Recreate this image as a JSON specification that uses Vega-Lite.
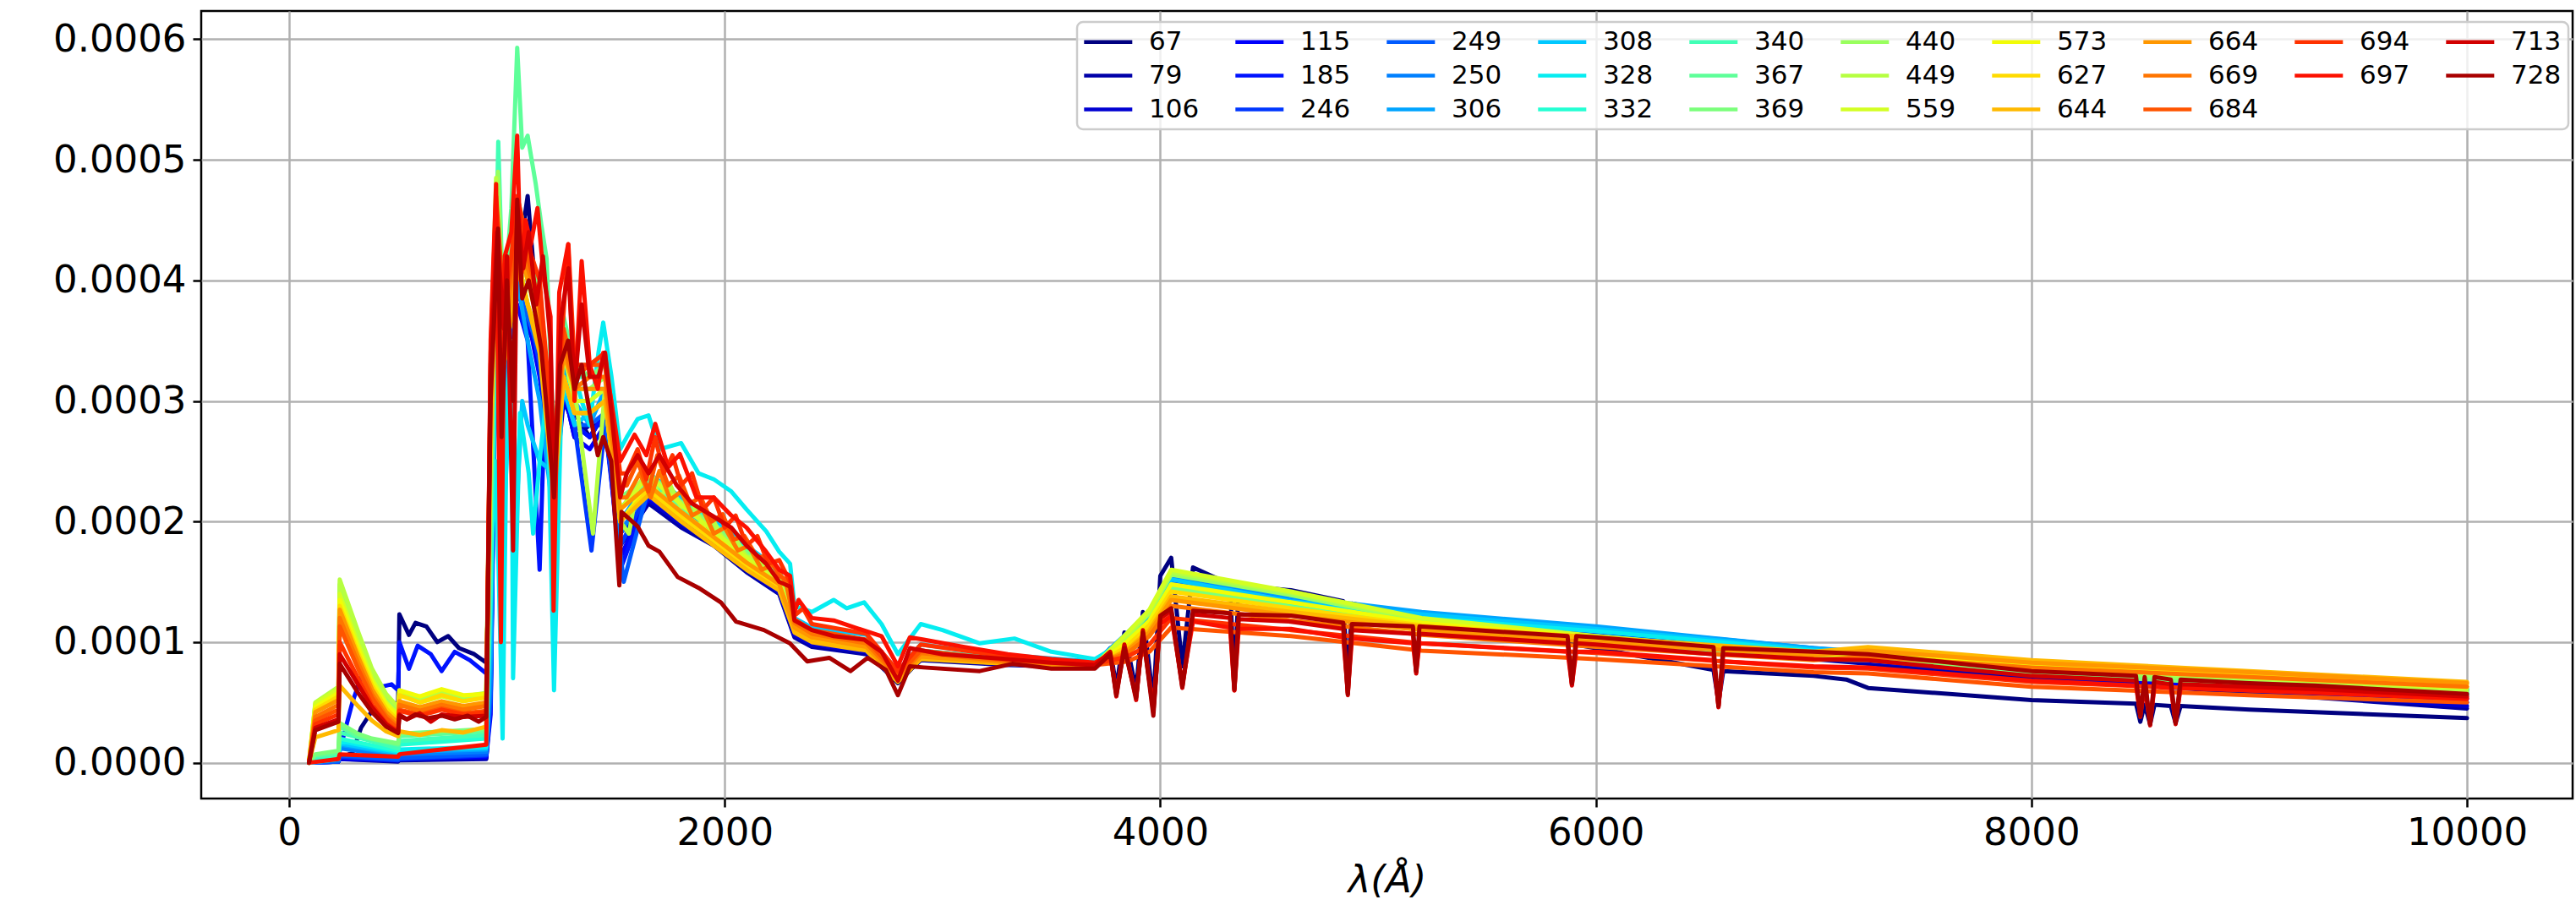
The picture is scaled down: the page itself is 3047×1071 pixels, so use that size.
{
"$schema":"https://vega.github.io/schema/vega-lite/v6.json",
"width":2805,"height":932,
"autosize":{"type":"none"},
"padding":{"left":238,"top":13,"right":4,"bottom":126},
"background":"white",
"config":{
"view":{"stroke":"black","strokeWidth":2.5},
"font":"DejaVu Sans",
"axis":{"labelFont":"DejaVu Sans","labelFontSize":45,"labelColor":"#000","tickColor":"#000","tickWidth":2.5,"tickSize":10,"labelPadding":8,"domain":false,"grid":true,"gridColor":"#b0b0b0","gridWidth":2.5,"titleFont":"DejaVu Sans","titleFontSize":45,"titleFontWeight":"normal","titleColor":"#000"}
},
"data":{"values":[
{"s":67,"x":91,"y":0},{"s":67,"x":226,"y":0.000002},{"s":67,"x":232,"y":0.000004},{"s":67,"x":290,"y":0.000008},{"s":67,"x":330,"y":0.000029},{"s":67,"x":380,"y":0.000043},{"s":67,"x":440,"y":0.000053},{"s":67,"x":500,"y":0.000048},{"s":67,"x":506,"y":0.000123},{"s":67,"x":550,"y":0.000106},{"s":67,"x":580,"y":0.000116},{"s":67,"x":630,"y":0.000113},{"s":67,"x":680,"y":0.0001},{"s":67,"x":730,"y":0.000105},{"s":67,"x":780,"y":0.000095},{"s":67,"x":850,"y":0.00009},{"s":67,"x":905,"y":0.000083},
{"s":67,"x":925,"y":0.0002},{"s":67,"x":950,"y":0.0004},{"s":67,"x":985,"y":0.00033},{"s":67,"x":1020,"y":0.00036},{"s":67,"x":1047,"y":0.00041},{"s":67,"x":1095,"y":0.00047},{"s":67,"x":1150,"y":0.00035},{"s":67,"x":1216,"y":0.00022},{"s":67,"x":1260,"y":0.00032},{"s":67,"x":1310,"y":0.00029},{"s":67,"x":1380,"y":0.00027},{"s":67,"x":1450,"y":0.00029},{"s":67,"x":1520,"y":0.00017},
{"s":67,"x":1650,"y":0.00022},{"s":67,"x":1800,"y":0.0002},{"s":67,"x":1950,"y":0.000185},{"s":67,"x":2100,"y":0.00016},{"s":67,"x":2250,"y":0.000142},{"s":67,"x":2320,"y":0.000105},{"s":67,"x":2400,"y":0.000098},{"s":67,"x":2650,"y":0.000092},{"s":67,"x":2795,"y":0.000066},{"s":67,"x":2900,"y":0.000086},{"s":67,"x":3300,"y":0.000082},{"s":67,"x":3700,"y":0.00008},
{"s":67,"x":3770,"y":0.000095},{"s":67,"x":3798,"y":0.000062},{"s":67,"x":3835,"y":0.000108},{"s":67,"x":3889,"y":0.00006},{"s":67,"x":3920,"y":0.000125},{"s":67,"x":3968,"y":0.00005},{"s":67,"x":4000,"y":0.000155},{"s":67,"x":4050,"y":0.00017},{"s":67,"x":4101,"y":0.00008},{"s":67,"x":4150,"y":0.000162},{"s":67,"x":4320,"y":0.000148},{"s":67,"x":4340,"y":0.000065},{"s":67,"x":4360,"y":0.000147},{"s":67,"x":4600,"y":0.000143},{"s":67,"x":4840,"y":0.000134},{"s":67,"x":4861,"y":0.000065},{"s":67,"x":4880,"y":0.000132},{"s":67,"x":5200,"y":0.00012},{"s":67,"x":6000,"y":0.000095},{"s":67,"x":6540,"y":0.000077},{"s":67,"x":6563,"y":0.00005},{"s":67,"x":6585,"y":0.000076},{"s":67,"x":7000,"y":0.000072},{"s":67,"x":7150,"y":0.000069},{"s":67,"x":7250,"y":0.000062},{"s":67,"x":8000,"y":0.000052},{"s":67,"x":8480,"y":0.000049},{"s":67,"x":8500,"y":0.000034},{"s":67,"x":8520,"y":0.000048},{"s":67,"x":8545,"y":0.000032},{"s":67,"x":8565,"y":0.000048},{"s":67,"x":8640,"y":0.000047},{"s":67,"x":8662,"y":0.000033},{"s":67,"x":8685,"y":0.000047},{"s":67,"x":9000,"y":0.000044},{"s":67,"x":10000,"y":0.000037},

{"s":79,"x":91,"y":0},{"s":79,"x":226,"y":0.000001},{"s":79,"x":232,"y":0.000003},{"s":79,"x":500,"y":0.000001},{"s":79,"x":506,"y":0.000002},{"s":79,"x":905,"y":0.000003},
{"s":79,"x":925,"y":0.00006},{"s":79,"x":950,"y":0.00038},{"s":79,"x":985,"y":0.00031},{"s":79,"x":1020,"y":0.00035},{"s":79,"x":1047,"y":0.0004},{"s":79,"x":1095,"y":0.00037},{"s":79,"x":1150,"y":0.00033},{"s":79,"x":1216,"y":0.00021},{"s":79,"x":1260,"y":0.00031},{"s":79,"x":1310,"y":0.00027},{"s":79,"x":1380,"y":0.00028},{"s":79,"x":1450,"y":0.00028},{"s":79,"x":1520,"y":0.00018},
{"s":79,"x":1650,"y":0.000215},{"s":79,"x":1800,"y":0.000195},{"s":79,"x":1950,"y":0.00018},{"s":79,"x":2100,"y":0.000158},{"s":79,"x":2250,"y":0.00014},{"s":79,"x":2320,"y":0.000104},{"s":79,"x":2400,"y":0.000096},{"s":79,"x":2650,"y":0.00009},{"s":79,"x":2795,"y":0.000068},{"s":79,"x":2900,"y":0.000085},{"s":79,"x":3300,"y":0.000081},{"s":79,"x":3700,"y":0.000079},
{"s":79,"x":3850,"y":0.000106},{"s":79,"x":3950,"y":0.000124},{"s":79,"x":4050,"y":0.000156},{"s":79,"x":4600,"y":0.000136},{"s":79,"x":5200,"y":0.000118},{"s":79,"x":6000,"y":0.000104},{"s":79,"x":7000,"y":0.000086},{"s":79,"x":7250,"y":0.000082},{"s":79,"x":8000,"y":0.00007},{"s":79,"x":9000,"y":0.000058},{"s":79,"x":10000,"y":0.000045},

{"s":106,"x":91,"y":0},{"s":106,"x":226,"y":0.000001},{"s":106,"x":232,"y":0.000003},{"s":106,"x":500,"y":0.000002},{"s":106,"x":506,"y":0.000003},{"s":106,"x":905,"y":0.000004},
{"s":106,"x":925,"y":0.00005},{"s":106,"x":950,"y":0.00039},{"s":106,"x":985,"y":0.00032},{"s":106,"x":1020,"y":0.00034},{"s":106,"x":1047,"y":0.00041},{"s":106,"x":1095,"y":0.00036},{"s":106,"x":1150,"y":0.00034},{"s":106,"x":1216,"y":0.00022},{"s":106,"x":1260,"y":0.0003},{"s":106,"x":1310,"y":0.00028},{"s":106,"x":1380,"y":0.00027},{"s":106,"x":1450,"y":0.00029},{"s":106,"x":1520,"y":0.00019},
{"s":106,"x":1650,"y":0.000218},{"s":106,"x":1800,"y":0.000198},{"s":106,"x":1950,"y":0.000182},{"s":106,"x":2100,"y":0.00016},{"s":106,"x":2250,"y":0.000141},{"s":106,"x":2320,"y":0.000106},{"s":106,"x":2400,"y":0.000098},{"s":106,"x":2650,"y":0.000092},{"s":106,"x":2795,"y":0.000069},{"s":106,"x":2900,"y":0.000086},{"s":106,"x":3300,"y":0.000082},{"s":106,"x":3700,"y":0.00008},
{"s":106,"x":3850,"y":0.000104},{"s":106,"x":3950,"y":0.000122},{"s":106,"x":4050,"y":0.000154},{"s":106,"x":4600,"y":0.000135},{"s":106,"x":5200,"y":0.000119},{"s":106,"x":6000,"y":0.000106},{"s":106,"x":7000,"y":0.000088},{"s":106,"x":7250,"y":0.000084},{"s":106,"x":8000,"y":0.000072},{"s":106,"x":9000,"y":0.00006},{"s":106,"x":10000,"y":0.000047},

{"s":115,"x":91,"y":0},{"s":115,"x":226,"y":0.000001},{"s":115,"x":232,"y":0.000004},{"s":115,"x":500,"y":0.000002},{"s":115,"x":506,"y":0.000003},{"s":115,"x":905,"y":0.000005},
{"s":115,"x":925,"y":0.00004},{"s":115,"x":950,"y":0.00037},{"s":115,"x":985,"y":0.00033},{"s":115,"x":1020,"y":0.00035},{"s":115,"x":1047,"y":0.00039},{"s":115,"x":1095,"y":0.00037},{"s":115,"x":1150,"y":0.00032},{"s":115,"x":1216,"y":0.00023},{"s":115,"x":1260,"y":0.00031},{"s":115,"x":1310,"y":0.00027},{"s":115,"x":1380,"y":0.00026},{"s":115,"x":1450,"y":0.00028},{"s":115,"x":1520,"y":0.00017},
{"s":115,"x":1650,"y":0.00022},{"s":115,"x":1800,"y":0.000202},{"s":115,"x":1950,"y":0.000184},{"s":115,"x":2100,"y":0.000162},{"s":115,"x":2250,"y":0.000144},{"s":115,"x":2320,"y":0.000108},{"s":115,"x":2400,"y":0.0001},{"s":115,"x":2650,"y":0.000093},{"s":115,"x":2795,"y":0.000069},{"s":115,"x":2900,"y":0.000087},{"s":115,"x":3300,"y":0.000083},{"s":115,"x":3700,"y":0.00008},
{"s":115,"x":3850,"y":0.000103},{"s":115,"x":3950,"y":0.000121},{"s":115,"x":4050,"y":0.000152},{"s":115,"x":4600,"y":0.000134},{"s":115,"x":5200,"y":0.000119},{"s":115,"x":6000,"y":0.000107},{"s":115,"x":7000,"y":0.00009},{"s":115,"x":7250,"y":0.000086},{"s":115,"x":8000,"y":0.000074},{"s":115,"x":9000,"y":0.000062},{"s":115,"x":10000,"y":0.00005},

{"s":185,"x":91,"y":0},{"s":185,"x":226,"y":0.000002},{"s":185,"x":232,"y":0.00001},{"s":185,"x":290,"y":0.00005},{"s":185,"x":340,"y":0.000076},{"s":185,"x":400,"y":0.000062},{"s":185,"x":470,"y":0.000065},{"s":185,"x":500,"y":0.00006},{"s":185,"x":506,"y":0.0001},{"s":185,"x":550,"y":0.000078},{"s":185,"x":590,"y":0.000097},{"s":185,"x":650,"y":0.00009},{"s":185,"x":700,"y":0.000076},{"s":185,"x":760,"y":0.000092},{"s":185,"x":830,"y":0.000085},{"s":185,"x":905,"y":0.000074},
{"s":185,"x":925,"y":0.00018},{"s":185,"x":950,"y":0.00036},{"s":185,"x":985,"y":0.00031},{"s":185,"x":1020,"y":0.00036},{"s":185,"x":1047,"y":0.00038},{"s":185,"x":1095,"y":0.00035},{"s":185,"x":1150,"y":0.00016},{"s":185,"x":1180,"y":0.00033},{"s":185,"x":1216,"y":0.00022},{"s":185,"x":1260,"y":0.00032},{"s":185,"x":1310,"y":0.00028},{"s":185,"x":1380,"y":0.00027},{"s":185,"x":1450,"y":0.00029},{"s":185,"x":1520,"y":0.00016},
{"s":185,"x":1650,"y":0.000223},{"s":185,"x":1800,"y":0.000204},{"s":185,"x":1950,"y":0.000186},{"s":185,"x":2100,"y":0.000164},{"s":185,"x":2250,"y":0.000146},{"s":185,"x":2320,"y":0.00011},{"s":185,"x":2400,"y":0.000101},{"s":185,"x":2650,"y":0.000094},{"s":185,"x":2795,"y":0.00007},{"s":185,"x":2900,"y":0.000088},{"s":185,"x":3300,"y":0.000083},{"s":185,"x":3700,"y":0.000081},
{"s":185,"x":3850,"y":0.000103},{"s":185,"x":3950,"y":0.00012},{"s":185,"x":4050,"y":0.00015},{"s":185,"x":4600,"y":0.000133},{"s":185,"x":5200,"y":0.00012},{"s":185,"x":6000,"y":0.000108},{"s":185,"x":7000,"y":0.000091},{"s":185,"x":7250,"y":0.000087},{"s":185,"x":8000,"y":0.000075},{"s":185,"x":9000,"y":0.000064},{"s":185,"x":10000,"y":0.000053},

{"s":246,"x":91,"y":0},{"s":246,"x":226,"y":0.000001},{"s":246,"x":232,"y":0.000005},{"s":246,"x":500,"y":0.000002},{"s":246,"x":506,"y":0.000003},{"s":246,"x":905,"y":0.000006},
{"s":246,"x":925,"y":0.00005},{"s":246,"x":950,"y":0.00039},{"s":246,"x":985,"y":0.00032},{"s":246,"x":1020,"y":0.00037},{"s":246,"x":1047,"y":0.0004},{"s":246,"x":1095,"y":0.00038},{"s":246,"x":1150,"y":0.00033},{"s":246,"x":1216,"y":0.00023},{"s":246,"x":1260,"y":0.00031},{"s":246,"x":1310,"y":0.00028},{"s":246,"x":1388,"y":0.000176},{"s":246,"x":1450,"y":0.00028},{"s":246,"x":1520,"y":0.00018},
{"s":246,"x":1650,"y":0.000225},{"s":246,"x":1800,"y":0.000206},{"s":246,"x":1950,"y":0.000188},{"s":246,"x":2100,"y":0.000166},{"s":246,"x":2250,"y":0.000148},{"s":246,"x":2320,"y":0.000111},{"s":246,"x":2400,"y":0.000103},{"s":246,"x":2650,"y":0.000095},{"s":246,"x":2795,"y":0.000071},{"s":246,"x":2900,"y":0.000089},{"s":246,"x":3300,"y":0.000084},{"s":246,"x":3700,"y":0.000081},
{"s":246,"x":3850,"y":0.000105},{"s":246,"x":3950,"y":0.000123},{"s":246,"x":4050,"y":0.000153},{"s":246,"x":4600,"y":0.000135},{"s":246,"x":5200,"y":0.000122},{"s":246,"x":6000,"y":0.00011},{"s":246,"x":7000,"y":0.000093},{"s":246,"x":7250,"y":0.000089},{"s":246,"x":8000,"y":0.000077},{"s":246,"x":9000,"y":0.000066},{"s":246,"x":10000,"y":0.000056},

{"s":249,"x":91,"y":0},{"s":249,"x":226,"y":0.000001},{"s":249,"x":232,"y":0.000006},{"s":249,"x":500,"y":0.000003},{"s":249,"x":506,"y":0.000004},{"s":249,"x":905,"y":0.000007},
{"s":249,"x":925,"y":0.00006},{"s":249,"x":950,"y":0.0004},{"s":249,"x":985,"y":0.00033},{"s":249,"x":1020,"y":0.00036},{"s":249,"x":1047,"y":0.00041},{"s":249,"x":1095,"y":0.00037},{"s":249,"x":1150,"y":0.00034},{"s":249,"x":1216,"y":0.00022},{"s":249,"x":1260,"y":0.00033},{"s":249,"x":1310,"y":0.00028},{"s":249,"x":1380,"y":0.00028},{"s":249,"x":1450,"y":0.00029},{"s":249,"x":1536,"y":0.00015},
{"s":249,"x":1650,"y":0.000228},{"s":249,"x":1800,"y":0.000208},{"s":249,"x":1950,"y":0.00019},{"s":249,"x":2100,"y":0.000168},{"s":249,"x":2250,"y":0.00015},{"s":249,"x":2320,"y":0.000112},{"s":249,"x":2400,"y":0.000104},{"s":249,"x":2650,"y":0.000096},{"s":249,"x":2795,"y":0.000072},{"s":249,"x":2900,"y":0.00009},{"s":249,"x":3300,"y":0.000085},{"s":249,"x":3700,"y":0.000082},
{"s":249,"x":3850,"y":0.000106},{"s":249,"x":3950,"y":0.000124},{"s":249,"x":4050,"y":0.000154},{"s":249,"x":4600,"y":0.000136},{"s":249,"x":5200,"y":0.000123},{"s":249,"x":6000,"y":0.000111},{"s":249,"x":7000,"y":0.000094},{"s":249,"x":7250,"y":0.00009},{"s":249,"x":8000,"y":0.000078},{"s":249,"x":9000,"y":0.000068},{"s":249,"x":10000,"y":0.000058},

{"s":250,"x":91,"y":0},{"s":250,"x":226,"y":0.000002},{"s":250,"x":232,"y":0.000012},{"s":250,"x":500,"y":0.000005},{"s":250,"x":506,"y":0.000007},{"s":250,"x":905,"y":0.000009},
{"s":250,"x":925,"y":0.00007},{"s":250,"x":950,"y":0.00041},{"s":250,"x":985,"y":0.00034},{"s":250,"x":1020,"y":0.00037},{"s":250,"x":1047,"y":0.00042},{"s":250,"x":1095,"y":0.00038},{"s":250,"x":1150,"y":0.00034},{"s":250,"x":1216,"y":0.00023},{"s":250,"x":1260,"y":0.00032},{"s":250,"x":1310,"y":0.00029},{"s":250,"x":1380,"y":0.00029},{"s":250,"x":1450,"y":0.0003},{"s":250,"x":1520,"y":0.00019},
{"s":250,"x":1650,"y":0.00023},{"s":250,"x":1800,"y":0.00021},{"s":250,"x":1950,"y":0.000192},{"s":250,"x":2100,"y":0.00017},{"s":250,"x":2250,"y":0.000152},{"s":250,"x":2320,"y":0.000114},{"s":250,"x":2400,"y":0.000106},{"s":250,"x":2650,"y":0.000098},{"s":250,"x":2795,"y":0.000073},{"s":250,"x":2900,"y":0.000091},{"s":250,"x":3300,"y":0.000085},{"s":250,"x":3700,"y":0.000082},
{"s":250,"x":3850,"y":0.000107},{"s":250,"x":3950,"y":0.000125},{"s":250,"x":4050,"y":0.000155},{"s":250,"x":4600,"y":0.000137},{"s":250,"x":5200,"y":0.000124},{"s":250,"x":6000,"y":0.000112},{"s":250,"x":7000,"y":0.000095},{"s":250,"x":7250,"y":0.000091},{"s":250,"x":8000,"y":0.000079},{"s":250,"x":9000,"y":0.000069},{"s":250,"x":10000,"y":0.00006},

{"s":306,"x":91,"y":0},{"s":306,"x":226,"y":0.000003},{"s":306,"x":232,"y":0.000015},{"s":306,"x":500,"y":0.000007},{"s":306,"x":506,"y":0.000009},{"s":306,"x":905,"y":0.000011},
{"s":306,"x":925,"y":0.00009},{"s":306,"x":950,"y":0.0004},{"s":306,"x":985,"y":0.0003},{"s":306,"x":1020,"y":0.00038},{"s":306,"x":1047,"y":0.0004},{"s":306,"x":1095,"y":0.00035},{"s":306,"x":1150,"y":0.0003},{"s":306,"x":1216,"y":0.0002},{"s":306,"x":1260,"y":0.00033},{"s":306,"x":1310,"y":0.0003},{"s":306,"x":1380,"y":0.00028},{"s":306,"x":1450,"y":0.00031},{"s":306,"x":1520,"y":0.0002},
{"s":306,"x":1650,"y":0.000235},{"s":306,"x":1800,"y":0.000214},{"s":306,"x":1950,"y":0.000196},{"s":306,"x":2100,"y":0.000174},{"s":306,"x":2250,"y":0.000156},{"s":306,"x":2320,"y":0.000116},{"s":306,"x":2400,"y":0.000108},{"s":306,"x":2650,"y":0.0001},{"s":306,"x":2795,"y":0.000074},{"s":306,"x":2900,"y":0.000093},{"s":306,"x":3300,"y":0.000086},{"s":306,"x":3700,"y":0.000083},
{"s":306,"x":3850,"y":0.000108},{"s":306,"x":3950,"y":0.000126},{"s":306,"x":4050,"y":0.000156},{"s":306,"x":4600,"y":0.000138},{"s":306,"x":5200,"y":0.000125},{"s":306,"x":6000,"y":0.000113},{"s":306,"x":7000,"y":0.000095},{"s":306,"x":7250,"y":0.000092},{"s":306,"x":8000,"y":0.00008},{"s":306,"x":9000,"y":0.00007},{"s":306,"x":10000,"y":0.000061},

{"s":308,"x":91,"y":0},{"s":308,"x":226,"y":0.000003},{"s":308,"x":232,"y":0.000016},{"s":308,"x":500,"y":0.000008},{"s":308,"x":506,"y":0.00001},{"s":308,"x":905,"y":0.000012},
{"s":308,"x":925,"y":0.00012},{"s":308,"x":950,"y":0.00035},{"s":308,"x":985,"y":0.0002},{"s":308,"x":1020,"y":0.00033},{"s":308,"x":1047,"y":0.00022},{"s":308,"x":1070,"y":0.0003},{"s":308,"x":1095,"y":0.00028},{"s":308,"x":1150,"y":0.00025},{"s":308,"x":1216,"y":0.00024},{"s":308,"x":1260,"y":0.00031},{"s":308,"x":1310,"y":0.00028},{"s":308,"x":1380,"y":0.00029},{"s":308,"x":1450,"y":0.0003},{"s":308,"x":1520,"y":0.00021},
{"s":308,"x":1650,"y":0.00024},{"s":308,"x":1800,"y":0.00022},{"s":308,"x":1950,"y":0.000202},{"s":308,"x":2100,"y":0.00018},{"s":308,"x":2250,"y":0.00016},{"s":308,"x":2320,"y":0.00012},{"s":308,"x":2400,"y":0.000112},{"s":308,"x":2650,"y":0.000106},{"s":308,"x":2795,"y":0.000076},{"s":308,"x":2900,"y":0.000098},{"s":308,"x":3300,"y":0.000089},{"s":308,"x":3700,"y":0.000084},
{"s":308,"x":3850,"y":0.000106},{"s":308,"x":3950,"y":0.000123},{"s":308,"x":4050,"y":0.000152},{"s":308,"x":4600,"y":0.000134},{"s":308,"x":5200,"y":0.000123},{"s":308,"x":6000,"y":0.000111},{"s":308,"x":7000,"y":0.000094},{"s":308,"x":7250,"y":0.000091},{"s":308,"x":8000,"y":0.000079},{"s":308,"x":9000,"y":0.000069},{"s":308,"x":10000,"y":0.00006},

{"s":328,"x":91,"y":0},{"s":328,"x":226,"y":0.000003},{"s":328,"x":232,"y":0.000018},{"s":328,"x":500,"y":0.000009},{"s":328,"x":506,"y":0.000011},{"s":328,"x":905,"y":0.000013},
{"s":328,"x":925,"y":0.00016},{"s":328,"x":950,"y":0.00025},{"s":328,"x":980,"y":0.00002},{"s":328,"x":1000,"y":0.0003},{"s":328,"x":1020,"y":0.00035},{"s":328,"x":1028,"y":0.00007},{"s":328,"x":1060,"y":0.00029},{"s":328,"x":1100,"y":0.00024},{"s":328,"x":1120,"y":0.00019},{"s":328,"x":1150,"y":0.00025},{"s":328,"x":1185,"y":0.00031},{"s":328,"x":1216,"y":0.00006},{"s":328,"x":1250,"y":0.0003},{"s":328,"x":1300,"y":0.00033},{"s":328,"x":1343,"y":0.0003},{"s":328,"x":1380,"y":0.00028},{"s":328,"x":1420,"y":0.00034},{"s":328,"x":1442,"y":0.000365},{"s":328,"x":1480,"y":0.00032},{"s":328,"x":1520,"y":0.00026},
{"s":328,"x":1550,"y":0.00027},{"s":328,"x":1600,"y":0.000285},{"s":328,"x":1650,"y":0.000288},{"s":328,"x":1700,"y":0.00026},{"s":328,"x":1800,"y":0.000265},{"s":328,"x":1880,"y":0.00024},{"s":328,"x":1950,"y":0.000235},{"s":328,"x":2030,"y":0.000225},{"s":328,"x":2100,"y":0.00021},{"s":328,"x":2190,"y":0.000192},{"s":328,"x":2250,"y":0.000175},{"s":328,"x":2300,"y":0.000165},{"s":328,"x":2320,"y":0.00013},{"s":328,"x":2400,"y":0.000125},{"s":328,"x":2500,"y":0.000135},{"s":328,"x":2560,"y":0.000128},{"s":328,"x":2640,"y":0.000133},{"s":328,"x":2720,"y":0.000115},{"s":328,"x":2795,"y":0.00009},{"s":328,"x":2900,"y":0.000115},{"s":328,"x":3000,"y":0.00011},{"s":328,"x":3171,"y":0.000099},{"s":328,"x":3330,"y":0.000103},{"s":328,"x":3500,"y":0.000092},{"s":328,"x":3700,"y":0.000086},
{"s":328,"x":3850,"y":0.000102},{"s":328,"x":3950,"y":0.000118},{"s":328,"x":4050,"y":0.000148},{"s":328,"x":4600,"y":0.000132},{"s":328,"x":5200,"y":0.00012},{"s":328,"x":6000,"y":0.000109},{"s":328,"x":7000,"y":0.000093},{"s":328,"x":7250,"y":0.00009},{"s":328,"x":8000,"y":0.000078},{"s":328,"x":9000,"y":0.000069},{"s":328,"x":10000,"y":0.00006},

{"s":332,"x":91,"y":0},{"s":332,"x":120,"y":0.000004},{"s":332,"x":226,"y":0.000005},{"s":332,"x":232,"y":0.00002},{"s":332,"x":500,"y":0.00001},{"s":332,"x":506,"y":0.000015},{"s":332,"x":905,"y":0.00002},
{"s":332,"x":925,"y":0.00014},{"s":332,"x":950,"y":0.00042},{"s":332,"x":985,"y":0.00035},{"s":332,"x":1020,"y":0.00039},{"s":332,"x":1047,"y":0.00045},{"s":332,"x":1095,"y":0.0004},{"s":332,"x":1150,"y":0.00037},{"s":332,"x":1216,"y":0.00024},{"s":332,"x":1260,"y":0.00034},{"s":332,"x":1310,"y":0.00031},{"s":332,"x":1380,"y":0.00031},{"s":332,"x":1450,"y":0.00031},{"s":332,"x":1520,"y":0.00021},
{"s":332,"x":1650,"y":0.000236},{"s":332,"x":1800,"y":0.000216},{"s":332,"x":1950,"y":0.000198},{"s":332,"x":2100,"y":0.000176},{"s":332,"x":2250,"y":0.000156},{"s":332,"x":2320,"y":0.000118},{"s":332,"x":2400,"y":0.000109},{"s":332,"x":2650,"y":0.000101},{"s":332,"x":2795,"y":0.000074},{"s":332,"x":2900,"y":0.000093},{"s":332,"x":3300,"y":0.000086},{"s":332,"x":3700,"y":0.000083},
{"s":332,"x":3850,"y":0.000101},{"s":332,"x":3950,"y":0.000116},{"s":332,"x":4050,"y":0.000146},{"s":332,"x":4600,"y":0.00013},{"s":332,"x":5200,"y":0.000116},{"s":332,"x":6000,"y":0.000105},{"s":332,"x":7000,"y":0.00009},{"s":332,"x":7250,"y":0.000089},{"s":332,"x":8000,"y":0.000078},{"s":332,"x":9000,"y":0.000069},{"s":332,"x":10000,"y":0.000061},

{"s":340,"x":91,"y":0},{"s":340,"x":120,"y":0.000005},{"s":340,"x":226,"y":0.000006},{"s":340,"x":232,"y":0.000025},{"s":340,"x":500,"y":0.000012},{"s":340,"x":506,"y":0.000018},{"s":340,"x":905,"y":0.000023},
{"s":340,"x":925,"y":0.0002},{"s":340,"x":960,"y":0.000515},{"s":340,"x":985,"y":0.00036},{"s":340,"x":1020,"y":0.00041},{"s":340,"x":1047,"y":0.00047},{"s":340,"x":1095,"y":0.00042},{"s":340,"x":1150,"y":0.00039},{"s":340,"x":1216,"y":0.00025},{"s":340,"x":1260,"y":0.00036},{"s":340,"x":1310,"y":0.00032},{"s":340,"x":1380,"y":0.00032},{"s":340,"x":1450,"y":0.00033},{"s":340,"x":1520,"y":0.00022},
{"s":340,"x":1650,"y":0.000234},{"s":340,"x":1800,"y":0.000214},{"s":340,"x":1950,"y":0.000196},{"s":340,"x":2100,"y":0.000174},{"s":340,"x":2250,"y":0.000154},{"s":340,"x":2320,"y":0.000116},{"s":340,"x":2400,"y":0.000107},{"s":340,"x":2650,"y":0.000099},{"s":340,"x":2795,"y":0.000073},{"s":340,"x":2900,"y":0.000092},{"s":340,"x":3300,"y":0.000085},{"s":340,"x":3700,"y":0.000082},
{"s":340,"x":3850,"y":0.0001},{"s":340,"x":3950,"y":0.000115},{"s":340,"x":4050,"y":0.000145},{"s":340,"x":4600,"y":0.000129},{"s":340,"x":5200,"y":0.000114},{"s":340,"x":6000,"y":0.000103},{"s":340,"x":7000,"y":0.000088},{"s":340,"x":7250,"y":0.000087},{"s":340,"x":8000,"y":0.000077},{"s":340,"x":9000,"y":0.000068},{"s":340,"x":10000,"y":0.000059},

{"s":367,"x":91,"y":0},{"s":367,"x":120,"y":0.000006},{"s":367,"x":226,"y":0.000008},{"s":367,"x":232,"y":0.00003},{"s":367,"x":316,"y":0.000022},{"s":367,"x":500,"y":0.000015},{"s":367,"x":506,"y":0.000022},{"s":367,"x":905,"y":0.000026},
{"s":367,"x":925,"y":0.00022},{"s":367,"x":950,"y":0.00044},{"s":367,"x":985,"y":0.00038},{"s":367,"x":1020,"y":0.00046},{"s":367,"x":1047,"y":0.000593},{"s":367,"x":1070,"y":0.00051},{"s":367,"x":1095,"y":0.00052},{"s":367,"x":1132,"y":0.00048},{"s":367,"x":1157,"y":0.000447},{"s":367,"x":1182,"y":0.000418},{"s":367,"x":1216,"y":0.00026},{"s":367,"x":1260,"y":0.00037},{"s":367,"x":1310,"y":0.00033},{"s":367,"x":1380,"y":0.00033},{"s":367,"x":1450,"y":0.00034},{"s":367,"x":1520,"y":0.00022},
{"s":367,"x":1650,"y":0.000232},{"s":367,"x":1800,"y":0.000212},{"s":367,"x":1950,"y":0.000194},{"s":367,"x":2100,"y":0.000172},{"s":367,"x":2250,"y":0.000152},{"s":367,"x":2320,"y":0.000115},{"s":367,"x":2400,"y":0.000106},{"s":367,"x":2650,"y":0.000098},{"s":367,"x":2795,"y":0.000072},{"s":367,"x":2900,"y":0.000091},{"s":367,"x":3300,"y":0.000085},{"s":367,"x":3700,"y":0.000082},
{"s":367,"x":3850,"y":0.000099},{"s":367,"x":3950,"y":0.000114},{"s":367,"x":4050,"y":0.000144},{"s":367,"x":4600,"y":0.000128},{"s":367,"x":5200,"y":0.000113},{"s":367,"x":6000,"y":0.000102},{"s":367,"x":7000,"y":0.000087},{"s":367,"x":7250,"y":0.000086},{"s":367,"x":8000,"y":0.000075},{"s":367,"x":9000,"y":0.000066},{"s":367,"x":10000,"y":0.000057},

{"s":369,"x":91,"y":0},{"s":369,"x":120,"y":0.000007},{"s":369,"x":226,"y":0.00001},{"s":369,"x":232,"y":0.000033},{"s":369,"x":316,"y":0.000024},{"s":369,"x":380,"y":0.00002},{"s":369,"x":500,"y":0.000016},{"s":369,"x":506,"y":0.000024},{"s":369,"x":905,"y":0.000028},
{"s":369,"x":925,"y":0.00021},{"s":369,"x":950,"y":0.00046},{"s":369,"x":985,"y":0.00037},{"s":369,"x":1020,"y":0.00041},{"s":369,"x":1047,"y":0.00047},{"s":369,"x":1095,"y":0.00043},{"s":369,"x":1150,"y":0.00039},{"s":369,"x":1216,"y":0.00025},{"s":369,"x":1260,"y":0.00036},{"s":369,"x":1310,"y":0.00033},{"s":369,"x":1380,"y":0.00032},{"s":369,"x":1450,"y":0.00033},{"s":369,"x":1520,"y":0.00022},
{"s":369,"x":1650,"y":0.000236},{"s":369,"x":1800,"y":0.000215},{"s":369,"x":1950,"y":0.000197},{"s":369,"x":2100,"y":0.000175},{"s":369,"x":2250,"y":0.000155},{"s":369,"x":2320,"y":0.000116},{"s":369,"x":2400,"y":0.000107},{"s":369,"x":2650,"y":0.000099},{"s":369,"x":2795,"y":0.000073},{"s":369,"x":2900,"y":0.000092},{"s":369,"x":3300,"y":0.000085},{"s":369,"x":3700,"y":0.000082},
{"s":369,"x":3850,"y":0.0001},{"s":369,"x":3950,"y":0.000115},{"s":369,"x":4050,"y":0.000145},{"s":369,"x":4600,"y":0.000129},{"s":369,"x":5200,"y":0.000113},{"s":369,"x":6000,"y":0.000101},{"s":369,"x":7000,"y":0.000086},{"s":369,"x":7250,"y":0.000085},{"s":369,"x":8000,"y":0.000074},{"s":369,"x":9000,"y":0.000065},{"s":369,"x":10000,"y":0.000056},

{"s":440,"x":91,"y":0},{"s":440,"x":120,"y":0.000048},{"s":440,"x":226,"y":0.00006},{"s":440,"x":232,"y":0.000148},{"s":440,"x":316,"y":0.000105},{"s":440,"x":380,"y":0.000075},{"s":440,"x":445,"y":0.000054},{"s":440,"x":500,"y":0.000043},{"s":440,"x":506,"y":0.000058},{"s":440,"x":600,"y":0.000052},{"s":440,"x":700,"y":0.000057},{"s":440,"x":800,"y":0.000053},{"s":440,"x":905,"y":0.000056},
{"s":440,"x":925,"y":0.0003},{"s":440,"x":959,"y":0.00049},{"s":440,"x":985,"y":0.00036},{"s":440,"x":1020,"y":0.0004},{"s":440,"x":1047,"y":0.00045},{"s":440,"x":1095,"y":0.00041},{"s":440,"x":1150,"y":0.00038},{"s":440,"x":1216,"y":0.00024},{"s":440,"x":1260,"y":0.00035},{"s":440,"x":1310,"y":0.00031},{"s":440,"x":1380,"y":0.00031},{"s":440,"x":1450,"y":0.00032},{"s":440,"x":1520,"y":0.00021},
{"s":440,"x":1650,"y":0.00024},{"s":440,"x":1800,"y":0.000216},{"s":440,"x":1950,"y":0.000194},{"s":440,"x":2100,"y":0.000172},{"s":440,"x":2250,"y":0.000152},{"s":440,"x":2320,"y":0.000114},{"s":440,"x":2400,"y":0.000105},{"s":440,"x":2650,"y":0.000097},{"s":440,"x":2795,"y":0.000071},{"s":440,"x":2900,"y":0.00009},{"s":440,"x":3300,"y":0.000084},{"s":440,"x":3700,"y":0.000081},
{"s":440,"x":3850,"y":0.000105},{"s":440,"x":3950,"y":0.000124},{"s":440,"x":4050,"y":0.000156},{"s":440,"x":4600,"y":0.000139},{"s":440,"x":5200,"y":0.000118},{"s":440,"x":6000,"y":0.000103},{"s":440,"x":7000,"y":0.000087},{"s":440,"x":7250,"y":0.000088},{"s":440,"x":8000,"y":0.000077},{"s":440,"x":9000,"y":0.000068},{"s":440,"x":10000,"y":0.000058},

{"s":449,"x":91,"y":0},{"s":449,"x":120,"y":0.00005},{"s":449,"x":226,"y":0.000063},{"s":449,"x":232,"y":0.000152},{"s":449,"x":316,"y":0.000109},{"s":449,"x":380,"y":0.000078},{"s":449,"x":445,"y":0.000057},{"s":449,"x":500,"y":0.000046},{"s":449,"x":506,"y":0.00006},{"s":449,"x":600,"y":0.000054},{"s":449,"x":700,"y":0.000059},{"s":449,"x":800,"y":0.000055},{"s":449,"x":905,"y":0.000058},
{"s":449,"x":925,"y":0.00032},{"s":449,"x":950,"y":0.000485},{"s":449,"x":985,"y":0.00035},{"s":449,"x":1020,"y":0.0004},{"s":449,"x":1047,"y":0.00044},{"s":449,"x":1095,"y":0.0004},{"s":449,"x":1150,"y":0.00037},{"s":449,"x":1216,"y":0.00024},{"s":449,"x":1260,"y":0.00034},{"s":449,"x":1310,"y":0.00031},{"s":449,"x":1395,"y":0.00019},{"s":449,"x":1450,"y":0.00031},{"s":449,"x":1520,"y":0.0002},
{"s":449,"x":1560,"y":0.00019},{"s":449,"x":1600,"y":0.00023},{"s":449,"x":1650,"y":0.000242},{"s":449,"x":1700,"y":0.00022},{"s":449,"x":1750,"y":0.00023},{"s":449,"x":1800,"y":0.000212},{"s":449,"x":1850,"y":0.000216},{"s":449,"x":1900,"y":0.000196},{"s":449,"x":1950,"y":0.0002},{"s":449,"x":2000,"y":0.000182},{"s":449,"x":2050,"y":0.000186},{"s":449,"x":2100,"y":0.00017},{"s":449,"x":2150,"y":0.000172},{"s":449,"x":2200,"y":0.000155},{"s":449,"x":2250,"y":0.000156},{"s":449,"x":2320,"y":0.000114},{"s":449,"x":2400,"y":0.000105},{"s":449,"x":2650,"y":0.000097},{"s":449,"x":2795,"y":0.000071},{"s":449,"x":2900,"y":0.00009},{"s":449,"x":3300,"y":0.000084},{"s":449,"x":3700,"y":0.000081},
{"s":449,"x":3850,"y":0.000106},{"s":449,"x":3950,"y":0.000125},{"s":449,"x":4050,"y":0.000158},{"s":449,"x":4600,"y":0.000141},{"s":449,"x":5200,"y":0.000119},{"s":449,"x":6000,"y":0.000104},{"s":449,"x":7000,"y":0.000088},{"s":449,"x":7250,"y":0.000089},{"s":449,"x":8000,"y":0.000079},{"s":449,"x":9000,"y":0.00007},{"s":449,"x":10000,"y":0.00006},

{"s":559,"x":91,"y":0},{"s":559,"x":120,"y":0.000049},{"s":559,"x":226,"y":0.000061},{"s":559,"x":232,"y":0.00014},{"s":559,"x":316,"y":0.000099},{"s":559,"x":380,"y":0.00007},{"s":559,"x":445,"y":0.00005},{"s":559,"x":500,"y":0.00004},{"s":559,"x":506,"y":0.000056},{"s":559,"x":600,"y":0.00005},{"s":559,"x":700,"y":0.000055},{"s":559,"x":800,"y":0.000051},{"s":559,"x":905,"y":0.000055},
{"s":559,"x":925,"y":0.00029},{"s":559,"x":950,"y":0.00045},{"s":559,"x":985,"y":0.00034},{"s":559,"x":1020,"y":0.00039},{"s":559,"x":1047,"y":0.00043},{"s":559,"x":1095,"y":0.0004},{"s":559,"x":1150,"y":0.00036},{"s":559,"x":1216,"y":0.00023},{"s":559,"x":1260,"y":0.00034},{"s":559,"x":1310,"y":0.0003},{"s":559,"x":1380,"y":0.0003},{"s":559,"x":1450,"y":0.00031},{"s":559,"x":1520,"y":0.00021},
{"s":559,"x":1650,"y":0.000238},{"s":559,"x":1800,"y":0.000214},{"s":559,"x":1950,"y":0.000192},{"s":559,"x":2100,"y":0.00017},{"s":559,"x":2250,"y":0.00015},{"s":559,"x":2320,"y":0.000113},{"s":559,"x":2400,"y":0.000104},{"s":559,"x":2650,"y":0.000096},{"s":559,"x":2795,"y":0.00007},{"s":559,"x":2900,"y":0.000089},{"s":559,"x":3300,"y":0.000084},{"s":559,"x":3700,"y":0.000081},
{"s":559,"x":3850,"y":0.000108},{"s":559,"x":3950,"y":0.000127},{"s":559,"x":4050,"y":0.00016},{"s":559,"x":4600,"y":0.000142},{"s":559,"x":5200,"y":0.00012},{"s":559,"x":6000,"y":0.000105},{"s":559,"x":7000,"y":0.000089},{"s":559,"x":7250,"y":0.00009},{"s":559,"x":8000,"y":0.00008},{"s":559,"x":9000,"y":0.000071},{"s":559,"x":10000,"y":0.000062},

{"s":573,"x":91,"y":0},{"s":573,"x":120,"y":0.000046},{"s":573,"x":226,"y":0.000058},{"s":573,"x":232,"y":0.000135},{"s":573,"x":316,"y":0.000095},{"s":573,"x":380,"y":0.000067},{"s":573,"x":445,"y":0.000048},{"s":573,"x":500,"y":0.000038},{"s":573,"x":506,"y":0.00006},{"s":573,"x":600,"y":0.000055},{"s":573,"x":700,"y":0.000061},{"s":573,"x":800,"y":0.000056},{"s":573,"x":905,"y":0.000057},
{"s":573,"x":925,"y":0.00028},{"s":573,"x":950,"y":0.00043},{"s":573,"x":985,"y":0.00033},{"s":573,"x":1020,"y":0.00037},{"s":573,"x":1047,"y":0.00042},{"s":573,"x":1095,"y":0.00038},{"s":573,"x":1150,"y":0.00035},{"s":573,"x":1216,"y":0.00023},{"s":573,"x":1260,"y":0.00032},{"s":573,"x":1310,"y":0.00029},{"s":573,"x":1380,"y":0.00029},{"s":573,"x":1450,"y":0.0003},{"s":573,"x":1520,"y":0.0002},
{"s":573,"x":1650,"y":0.00023},{"s":573,"x":1800,"y":0.000208},{"s":573,"x":1950,"y":0.000188},{"s":573,"x":2100,"y":0.000166},{"s":573,"x":2250,"y":0.000148},{"s":573,"x":2320,"y":0.000111},{"s":573,"x":2400,"y":0.000102},{"s":573,"x":2650,"y":0.000095},{"s":573,"x":2795,"y":0.000069},{"s":573,"x":2900,"y":0.000088},{"s":573,"x":3300,"y":0.000083},{"s":573,"x":3700,"y":0.00008},
{"s":573,"x":3850,"y":0.000101},{"s":573,"x":3950,"y":0.000118},{"s":573,"x":4050,"y":0.000148},{"s":573,"x":4600,"y":0.000133},{"s":573,"x":5200,"y":0.000116},{"s":573,"x":6000,"y":0.000104},{"s":573,"x":7000,"y":0.00009},{"s":573,"x":7250,"y":0.000091},{"s":573,"x":8000,"y":0.000081},{"s":573,"x":9000,"y":0.000072},{"s":573,"x":10000,"y":0.000063},

{"s":627,"x":91,"y":0},{"s":627,"x":120,"y":0.000044},{"s":627,"x":226,"y":0.000055},{"s":627,"x":232,"y":0.00013},{"s":627,"x":316,"y":0.000091},{"s":627,"x":380,"y":0.000064},{"s":627,"x":445,"y":0.000045},{"s":627,"x":500,"y":0.000035},{"s":627,"x":506,"y":0.000056},{"s":627,"x":600,"y":0.00005},{"s":627,"x":700,"y":0.000056},{"s":627,"x":800,"y":0.000051},{"s":627,"x":905,"y":0.000054},
{"s":627,"x":925,"y":0.00027},{"s":627,"x":950,"y":0.00042},{"s":627,"x":985,"y":0.00033},{"s":627,"x":1020,"y":0.00037},{"s":627,"x":1047,"y":0.00042},{"s":627,"x":1095,"y":0.00038},{"s":627,"x":1150,"y":0.00035},{"s":627,"x":1216,"y":0.00023},{"s":627,"x":1260,"y":0.00032},{"s":627,"x":1310,"y":0.00029},{"s":627,"x":1380,"y":0.00029},{"s":627,"x":1450,"y":0.0003},{"s":627,"x":1520,"y":0.0002},
{"s":627,"x":1650,"y":0.000226},{"s":627,"x":1800,"y":0.000204},{"s":627,"x":1950,"y":0.000184},{"s":627,"x":2100,"y":0.000163},{"s":627,"x":2250,"y":0.000146},{"s":627,"x":2320,"y":0.00011},{"s":627,"x":2400,"y":0.000101},{"s":627,"x":2650,"y":0.000094},{"s":627,"x":2795,"y":0.000068},{"s":627,"x":2900,"y":0.000087},{"s":627,"x":3300,"y":0.000082},{"s":627,"x":3700,"y":0.00008},
{"s":627,"x":3850,"y":0.000097},{"s":627,"x":3950,"y":0.000114},{"s":627,"x":4050,"y":0.000142},{"s":627,"x":4600,"y":0.000128},{"s":627,"x":5200,"y":0.000114},{"s":627,"x":6000,"y":0.000103},{"s":627,"x":7000,"y":0.00009},{"s":627,"x":7250,"y":0.000093},{"s":627,"x":8000,"y":0.000083},{"s":627,"x":9000,"y":0.000074},{"s":627,"x":10000,"y":0.000065},

{"s":644,"x":91,"y":0},{"s":644,"x":120,"y":0.000021},{"s":644,"x":226,"y":0.000027},{"s":644,"x":232,"y":0.000064},{"s":644,"x":316,"y":0.000047},{"s":644,"x":380,"y":0.000035},{"s":644,"x":445,"y":0.000026},{"s":644,"x":500,"y":0.000022},{"s":644,"x":506,"y":0.000026},{"s":644,"x":600,"y":0.000023},{"s":644,"x":700,"y":0.000027},{"s":644,"x":800,"y":0.000025},{"s":644,"x":905,"y":0.00003},
{"s":644,"x":925,"y":0.00026},{"s":644,"x":950,"y":0.00041},{"s":644,"x":985,"y":0.00033},{"s":644,"x":1020,"y":0.00037},{"s":644,"x":1047,"y":0.00041},{"s":644,"x":1095,"y":0.00038},{"s":644,"x":1150,"y":0.00034},{"s":644,"x":1216,"y":0.00022},{"s":644,"x":1260,"y":0.00032},{"s":644,"x":1310,"y":0.00029},{"s":644,"x":1380,"y":0.00029},{"s":644,"x":1450,"y":0.0003},{"s":644,"x":1520,"y":0.0002},
{"s":644,"x":1650,"y":0.000222},{"s":644,"x":1800,"y":0.0002},{"s":644,"x":1950,"y":0.00018},{"s":644,"x":2100,"y":0.00016},{"s":644,"x":2250,"y":0.000143},{"s":644,"x":2320,"y":0.000108},{"s":644,"x":2400,"y":0.0001},{"s":644,"x":2650,"y":0.000093},{"s":644,"x":2795,"y":0.000067},{"s":644,"x":2900,"y":0.000086},{"s":644,"x":3300,"y":0.000082},{"s":644,"x":3700,"y":0.00008},
{"s":644,"x":3850,"y":0.000094},{"s":644,"x":3950,"y":0.00011},{"s":644,"x":4050,"y":0.000138},{"s":644,"x":4600,"y":0.000125},{"s":644,"x":5200,"y":0.000113},{"s":644,"x":6000,"y":0.000104},{"s":644,"x":7000,"y":0.000092},{"s":644,"x":7250,"y":0.000096},{"s":644,"x":8000,"y":0.000085},{"s":644,"x":9000,"y":0.000076},{"s":644,"x":10000,"y":0.000067},

{"s":664,"x":91,"y":0},{"s":664,"x":120,"y":0.000042},{"s":664,"x":226,"y":0.000052},{"s":664,"x":232,"y":0.000127},{"s":664,"x":316,"y":0.000088},{"s":664,"x":380,"y":0.000061},{"s":664,"x":445,"y":0.000042},{"s":664,"x":500,"y":0.000033},{"s":664,"x":506,"y":0.000051},{"s":664,"x":600,"y":0.000046},{"s":664,"x":700,"y":0.000051},{"s":664,"x":800,"y":0.000047},{"s":664,"x":905,"y":0.00005},
{"s":664,"x":925,"y":0.0003},{"s":664,"x":950,"y":0.00044},{"s":664,"x":985,"y":0.00035},{"s":664,"x":1020,"y":0.00039},{"s":664,"x":1047,"y":0.00044},{"s":664,"x":1095,"y":0.0004},{"s":664,"x":1150,"y":0.00037},{"s":664,"x":1216,"y":0.00024},{"s":664,"x":1260,"y":0.00034},{"s":664,"x":1310,"y":0.00031},{"s":664,"x":1380,"y":0.00031},{"s":664,"x":1450,"y":0.00031},{"s":664,"x":1520,"y":0.00021},
{"s":664,"x":1650,"y":0.00023},{"s":664,"x":1800,"y":0.000208},{"s":664,"x":1950,"y":0.000187},{"s":664,"x":2100,"y":0.000166},{"s":664,"x":2250,"y":0.000148},{"s":664,"x":2320,"y":0.000112},{"s":664,"x":2400,"y":0.000104},{"s":664,"x":2650,"y":0.000096},{"s":664,"x":2795,"y":0.000069},{"s":664,"x":2900,"y":0.000088},{"s":664,"x":3300,"y":0.000083},{"s":664,"x":3700,"y":0.00008},
{"s":664,"x":3850,"y":0.000093},{"s":664,"x":3950,"y":0.000108},{"s":664,"x":4050,"y":0.000135},{"s":664,"x":4600,"y":0.000122},{"s":664,"x":5200,"y":0.00011},{"s":664,"x":6000,"y":0.0001},{"s":664,"x":7000,"y":0.000089},{"s":664,"x":7250,"y":0.000093},{"s":664,"x":8000,"y":0.000083},{"s":664,"x":9000,"y":0.000075},{"s":664,"x":10000,"y":0.000066},

{"s":669,"x":91,"y":0},{"s":669,"x":120,"y":0.000038},{"s":669,"x":226,"y":0.000048},{"s":669,"x":232,"y":0.00012},{"s":669,"x":316,"y":0.000083},{"s":669,"x":380,"y":0.000057},{"s":669,"x":445,"y":0.000039},{"s":669,"x":500,"y":0.00003},{"s":669,"x":506,"y":0.000048},{"s":669,"x":600,"y":0.000043},{"s":669,"x":700,"y":0.000048},{"s":669,"x":800,"y":0.000044},{"s":669,"x":905,"y":0.000047},
{"s":669,"x":925,"y":0.00031},{"s":669,"x":950,"y":0.00045},{"s":669,"x":985,"y":0.00036},{"s":669,"x":1020,"y":0.0004},{"s":669,"x":1047,"y":0.00045},{"s":669,"x":1095,"y":0.00041},{"s":669,"x":1150,"y":0.00038},{"s":669,"x":1216,"y":0.00025},{"s":669,"x":1260,"y":0.00035},{"s":669,"x":1310,"y":0.00031},{"s":669,"x":1380,"y":0.00032},{"s":669,"x":1450,"y":0.00032},{"s":669,"x":1520,"y":0.00022},
{"s":669,"x":1550,"y":0.00022},{"s":669,"x":1610,"y":0.00024},{"s":669,"x":1660,"y":0.00022},{"s":669,"x":1700,"y":0.000242},{"s":669,"x":1750,"y":0.000218},{"s":669,"x":1800,"y":0.000225},{"s":669,"x":1850,"y":0.000205},{"s":669,"x":1900,"y":0.00021},{"s":669,"x":1950,"y":0.00019},{"s":669,"x":2000,"y":0.000195},{"s":669,"x":2060,"y":0.000176},{"s":669,"x":2110,"y":0.00018},{"s":669,"x":2170,"y":0.00016},{"s":669,"x":2220,"y":0.000164},{"s":669,"x":2280,"y":0.00015},{"s":669,"x":2320,"y":0.000116},{"s":669,"x":2400,"y":0.000107},{"s":669,"x":2650,"y":0.000099},{"s":669,"x":2795,"y":0.000071},{"s":669,"x":2900,"y":0.000091},{"s":669,"x":3300,"y":0.000084},{"s":669,"x":3700,"y":0.000081},
{"s":669,"x":3850,"y":0.000091},{"s":669,"x":3950,"y":0.000105},{"s":669,"x":4050,"y":0.00013},{"s":669,"x":4600,"y":0.000118},{"s":669,"x":5200,"y":0.000106},{"s":669,"x":6000,"y":0.000096},{"s":669,"x":7000,"y":0.000085},{"s":669,"x":7250,"y":0.000088},{"s":669,"x":8000,"y":0.000079},{"s":669,"x":9000,"y":0.000071},{"s":669,"x":10000,"y":0.000063},

{"s":684,"x":91,"y":0},{"s":684,"x":120,"y":0.000035},{"s":684,"x":226,"y":0.000044},{"s":684,"x":232,"y":0.000113},{"s":684,"x":316,"y":0.000078},{"s":684,"x":380,"y":0.000054},{"s":684,"x":445,"y":0.000037},{"s":684,"x":500,"y":0.000028},{"s":684,"x":506,"y":0.000044},{"s":684,"x":600,"y":0.00004},{"s":684,"x":700,"y":0.000045},{"s":684,"x":800,"y":0.000041},{"s":684,"x":905,"y":0.000043},
{"s":684,"x":925,"y":0.00032},{"s":684,"x":950,"y":0.00046},{"s":684,"x":985,"y":0.00037},{"s":684,"x":1020,"y":0.00041},{"s":684,"x":1047,"y":0.00046},{"s":684,"x":1095,"y":0.00042},{"s":684,"x":1150,"y":0.00038},{"s":684,"x":1216,"y":0.00025},{"s":684,"x":1260,"y":0.00036},{"s":684,"x":1310,"y":0.00032},{"s":684,"x":1380,"y":0.00033},{"s":684,"x":1450,"y":0.00033},{"s":684,"x":1520,"y":0.00023},
{"s":684,"x":1550,"y":0.00023},{"s":684,"x":1600,"y":0.00025},{"s":684,"x":1650,"y":0.000225},{"s":684,"x":1690,"y":0.000255},{"s":684,"x":1740,"y":0.00023},{"s":684,"x":1790,"y":0.000238},{"s":684,"x":1840,"y":0.000215},{"s":684,"x":1890,"y":0.00022},{"s":684,"x":1940,"y":0.0002},{"s":684,"x":1990,"y":0.000206},{"s":684,"x":2040,"y":0.000185},{"s":684,"x":2090,"y":0.000188},{"s":684,"x":2150,"y":0.00017},{"s":684,"x":2200,"y":0.000172},{"s":684,"x":2250,"y":0.000155},{"s":684,"x":2300,"y":0.00015},{"s":684,"x":2320,"y":0.000119},{"s":684,"x":2400,"y":0.00011},{"s":684,"x":2650,"y":0.000102},{"s":684,"x":2795,"y":0.000073},{"s":684,"x":2900,"y":0.000093},{"s":684,"x":3300,"y":0.000085},{"s":684,"x":3700,"y":0.000081},
{"s":684,"x":3850,"y":0.000084},{"s":684,"x":3950,"y":0.000092},{"s":684,"x":4050,"y":0.000112},{"s":684,"x":4600,"y":0.000105},{"s":684,"x":5200,"y":0.000093},{"s":684,"x":6000,"y":0.000086},{"s":684,"x":7000,"y":0.000075},{"s":684,"x":7250,"y":0.000074},{"s":684,"x":8000,"y":0.000063},{"s":684,"x":9000,"y":0.000056},{"s":684,"x":10000,"y":0.00005},

{"s":694,"x":91,"y":0},{"s":694,"x":120,"y":0.000032},{"s":694,"x":226,"y":0.00004},{"s":694,"x":232,"y":0.0001},{"s":694,"x":316,"y":0.00007},{"s":694,"x":380,"y":0.000048},{"s":694,"x":445,"y":0.000033},{"s":694,"x":500,"y":0.000026},{"s":694,"x":506,"y":0.000043},{"s":694,"x":600,"y":0.000039},{"s":694,"x":700,"y":0.000044},{"s":694,"x":800,"y":0.00004},{"s":694,"x":905,"y":0.000042},
{"s":694,"x":925,"y":0.00034},{"s":694,"x":950,"y":0.00047},{"s":694,"x":985,"y":0.00038},{"s":694,"x":1020,"y":0.00042},{"s":694,"x":1047,"y":0.00047},{"s":694,"x":1095,"y":0.00043},{"s":694,"x":1150,"y":0.0004},{"s":694,"x":1216,"y":0.00026},{"s":694,"x":1282,"y":0.00043},{"s":694,"x":1310,"y":0.00033},{"s":694,"x":1380,"y":0.00033},{"s":694,"x":1450,"y":0.00034},{"s":694,"x":1520,"y":0.00024},
{"s":694,"x":1550,"y":0.00024},{"s":694,"x":1600,"y":0.00026},{"s":694,"x":1640,"y":0.000235},{"s":694,"x":1680,"y":0.00027},{"s":694,"x":1720,"y":0.00024},{"s":694,"x":1760,"y":0.000255},{"s":694,"x":1800,"y":0.00023},{"s":694,"x":1850,"y":0.00024},{"s":694,"x":1900,"y":0.00021},{"s":694,"x":1950,"y":0.00022},{"s":694,"x":2000,"y":0.000195},{"s":694,"x":2050,"y":0.000205},{"s":694,"x":2100,"y":0.00018},{"s":694,"x":2150,"y":0.000188},{"s":694,"x":2200,"y":0.000165},{"s":694,"x":2250,"y":0.000168},{"s":694,"x":2300,"y":0.00015},{"s":694,"x":2320,"y":0.000122},{"s":694,"x":2360,"y":0.000128},{"s":694,"x":2400,"y":0.000115},{"s":694,"x":2650,"y":0.000107},{"s":694,"x":2795,"y":0.000076},{"s":694,"x":2900,"y":0.000098},{"s":694,"x":3300,"y":0.000088},{"s":694,"x":3700,"y":0.000082},
{"s":694,"x":3850,"y":0.000088},{"s":694,"x":3950,"y":0.000098},{"s":694,"x":4050,"y":0.00012},{"s":694,"x":4600,"y":0.00011},{"s":694,"x":5200,"y":0.000099},{"s":694,"x":6000,"y":0.000091},{"s":694,"x":7000,"y":0.000079},{"s":694,"x":7250,"y":0.000078},{"s":694,"x":8000,"y":0.000067},{"s":694,"x":9000,"y":0.00006},{"s":694,"x":10000,"y":0.000054},

{"s":697,"x":91,"y":0},{"s":697,"x":226,"y":0.000003},{"s":697,"x":232,"y":0.000007},{"s":697,"x":500,"y":0.000005},{"s":697,"x":506,"y":0.000007},{"s":697,"x":700,"y":0.000011},{"s":697,"x":905,"y":0.000015},
{"s":697,"x":925,"y":0.00035},{"s":697,"x":950,"y":0.00048},{"s":697,"x":972,"y":0.0001},{"s":697,"x":990,"y":0.00042},{"s":697,"x":1020,"y":0.00044},{"s":697,"x":1047,"y":0.00052},{"s":697,"x":1065,"y":0.0004},{"s":697,"x":1085,"y":0.00045},{"s":697,"x":1110,"y":0.00043},{"s":697,"x":1140,"y":0.00046},{"s":697,"x":1170,"y":0.0004},{"s":697,"x":1200,"y":0.00037},{"s":697,"x":1214,"y":0.000126},{"s":697,"x":1240,"y":0.00039},{"s":697,"x":1281,"y":0.00043},{"s":697,"x":1310,"y":0.0003},{"s":697,"x":1343,"y":0.000416},{"s":697,"x":1380,"y":0.00033},{"s":697,"x":1417,"y":0.00031},{"s":697,"x":1442,"y":0.00034},{"s":697,"x":1479,"y":0.0003},{"s":697,"x":1520,"y":0.00025},
{"s":697,"x":1550,"y":0.00026},{"s":697,"x":1586,"y":0.000272},{"s":697,"x":1640,"y":0.000255},{"s":697,"x":1681,"y":0.000281},{"s":697,"x":1740,"y":0.000245},{"s":697,"x":1794,"y":0.000256},{"s":697,"x":1870,"y":0.00022},{"s":697,"x":1950,"y":0.00022},{"s":697,"x":2030,"y":0.000205},{"s":697,"x":2100,"y":0.000195},{"s":697,"x":2190,"y":0.000175},{"s":697,"x":2250,"y":0.00016},{"s":697,"x":2300,"y":0.000155},{"s":697,"x":2320,"y":0.000125},{"s":697,"x":2339,"y":0.000135},{"s":697,"x":2400,"y":0.00012},{"s":697,"x":2500,"y":0.000118},{"s":697,"x":2600,"y":0.000112},{"s":697,"x":2720,"y":0.000105},{"s":697,"x":2795,"y":0.00008},{"s":697,"x":2850,"y":0.000104},{"s":697,"x":2914,"y":0.000102},{"s":697,"x":3100,"y":0.000096},{"s":697,"x":3300,"y":0.00009},{"s":697,"x":3500,"y":0.000086},{"s":697,"x":3700,"y":0.000083},
{"s":697,"x":3770,"y":0.00009},{"s":697,"x":3798,"y":0.000058},{"s":697,"x":3835,"y":0.000096},{"s":697,"x":3889,"y":0.000055},{"s":697,"x":3920,"y":0.000105},{"s":697,"x":3968,"y":0.000045},{"s":697,"x":4000,"y":0.000115},{"s":697,"x":4050,"y":0.000122},{"s":697,"x":4101,"y":0.000065},{"s":697,"x":4150,"y":0.000117},{"s":697,"x":4320,"y":0.000112},{"s":697,"x":4340,"y":0.00006},{"s":697,"x":4360,"y":0.000111},{"s":697,"x":4600,"y":0.000111},{"s":697,"x":4840,"y":0.000104},{"s":697,"x":4861,"y":0.000058},{"s":697,"x":4880,"y":0.000103},{"s":697,"x":5160,"y":0.000099},{"s":697,"x":5175,"y":0.000075},{"s":697,"x":5190,"y":0.000099},{"s":697,"x":5870,"y":0.000092},{"s":697,"x":5890,"y":0.000065},{"s":697,"x":5910,"y":0.000092},{"s":697,"x":6000,"y":0.000092},{"s":697,"x":6540,"y":0.000085},{"s":697,"x":6563,"y":0.000047},{"s":697,"x":6585,"y":0.000084},{"s":697,"x":7000,"y":0.00008},{"s":697,"x":7250,"y":0.000079},{"s":697,"x":8000,"y":0.000068},{"s":697,"x":8480,"y":0.000064},{"s":697,"x":8500,"y":0.00004},{"s":697,"x":8520,"y":0.000063},{"s":697,"x":8545,"y":0.000033},{"s":697,"x":8565,"y":0.000063},{"s":697,"x":8640,"y":0.000062},{"s":697,"x":8662,"y":0.000034},{"s":697,"x":8685,"y":0.000062},{"s":697,"x":9000,"y":0.00006},{"s":697,"x":9300,"y":0.000058},{"s":697,"x":10000,"y":0.000053},

{"s":713,"x":91,"y":0},{"s":713,"x":120,"y":0.000029},{"s":713,"x":226,"y":0.000036},{"s":713,"x":232,"y":0.00009},{"s":713,"x":316,"y":0.000065},{"s":713,"x":380,"y":0.000046},{"s":713,"x":445,"y":0.000032},{"s":713,"x":500,"y":0.000025},{"s":713,"x":506,"y":0.00004},{"s":713,"x":540,"y":0.000036},{"s":713,"x":600,"y":0.000041},{"s":713,"x":650,"y":0.000034},{"s":713,"x":700,"y":0.00004},{"s":713,"x":800,"y":0.000038},{"s":713,"x":905,"y":0.000039},
{"s":713,"x":925,"y":0.00033},{"s":713,"x":955,"y":0.00044},{"s":713,"x":985,"y":0.00036},{"s":713,"x":1000,"y":0.00042},{"s":713,"x":1028,"y":0.000176},{"s":713,"x":1047,"y":0.00046},{"s":713,"x":1075,"y":0.00041},{"s":713,"x":1100,"y":0.00044},{"s":713,"x":1135,"y":0.00038},{"s":713,"x":1165,"y":0.00042},{"s":713,"x":1200,"y":0.00035},{"s":713,"x":1216,"y":0.00023},{"s":713,"x":1250,"y":0.00037},{"s":713,"x":1282,"y":0.00041},{"s":713,"x":1310,"y":0.00031},{"s":713,"x":1343,"y":0.00038},{"s":713,"x":1380,"y":0.00032},{"s":713,"x":1420,"y":0.00032},{"s":713,"x":1450,"y":0.00034},{"s":713,"x":1480,"y":0.00029},{"s":713,"x":1520,"y":0.00022},
{"s":713,"x":1550,"y":0.00024},{"s":713,"x":1600,"y":0.000255},{"s":713,"x":1650,"y":0.00024},{"s":713,"x":1700,"y":0.000255},{"s":713,"x":1780,"y":0.00023},{"s":713,"x":1850,"y":0.000215},{"s":713,"x":1950,"y":0.000204},{"s":713,"x":2030,"y":0.000195},{"s":713,"x":2100,"y":0.00018},{"s":713,"x":2190,"y":0.000165},{"s":713,"x":2250,"y":0.00015},{"s":713,"x":2300,"y":0.000146},{"s":713,"x":2320,"y":0.000118},{"s":713,"x":2400,"y":0.00011},{"s":713,"x":2500,"y":0.000105},{"s":713,"x":2640,"y":0.000102},{"s":713,"x":2720,"y":0.000092},{"s":713,"x":2795,"y":0.000068},{"s":713,"x":2850,"y":0.000095},{"s":713,"x":3000,"y":0.00009},{"s":713,"x":3300,"y":0.000086},{"s":713,"x":3500,"y":0.000083},{"s":713,"x":3700,"y":0.000081},
{"s":713,"x":3770,"y":0.000092},{"s":713,"x":3798,"y":0.000055},{"s":713,"x":3835,"y":0.000098},{"s":713,"x":3889,"y":0.000052},{"s":713,"x":3920,"y":0.00011},{"s":713,"x":3968,"y":0.000042},{"s":713,"x":4000,"y":0.00012},{"s":713,"x":4050,"y":0.000126},{"s":713,"x":4101,"y":0.000062},{"s":713,"x":4150,"y":0.000123},{"s":713,"x":4320,"y":0.00012},{"s":713,"x":4340,"y":0.00006},{"s":713,"x":4360,"y":0.000119},{"s":713,"x":4600,"y":0.000117},{"s":713,"x":4840,"y":0.000111},{"s":713,"x":4861,"y":0.000056},{"s":713,"x":4880,"y":0.00011},{"s":713,"x":5160,"y":0.000107},{"s":713,"x":5175,"y":0.000074},{"s":713,"x":5190,"y":0.000107},{"s":713,"x":5870,"y":0.000099},{"s":713,"x":5890,"y":0.000064},{"s":713,"x":5910,"y":0.000099},{"s":713,"x":6000,"y":0.000098},{"s":713,"x":6540,"y":0.00009},{"s":713,"x":6563,"y":0.000046},{"s":713,"x":6585,"y":0.00009},{"s":713,"x":7000,"y":0.000086},{"s":713,"x":7250,"y":0.000085},{"s":713,"x":8000,"y":0.000072},{"s":713,"x":8480,"y":0.000068},{"s":713,"x":8500,"y":0.000038},{"s":713,"x":8520,"y":0.000067},{"s":713,"x":8545,"y":0.000031},{"s":713,"x":8565,"y":0.000067},{"s":713,"x":8640,"y":0.000065},{"s":713,"x":8662,"y":0.000032},{"s":713,"x":8685,"y":0.000065},{"s":713,"x":9000,"y":0.000063},{"s":713,"x":9300,"y":0.000061},{"s":713,"x":10000,"y":0.000055},

{"s":728,"x":91,"y":0},{"s":728,"x":120,"y":0.000027},{"s":728,"x":226,"y":0.000034},{"s":728,"x":232,"y":0.000082},{"s":728,"x":316,"y":0.000058},{"s":728,"x":380,"y":0.000042},{"s":728,"x":445,"y":0.00003},{"s":728,"x":500,"y":0.0000245},{"s":728,"x":506,"y":0.000039},{"s":728,"x":540,"y":0.000036},{"s":728,"x":580,"y":0.00004},{"s":728,"x":640,"y":0.000037},{"s":728,"x":700,"y":0.000039},{"s":728,"x":760,"y":0.000036},{"s":728,"x":820,"y":0.000039},{"s":728,"x":870,"y":0.000034},{"s":728,"x":905,"y":0.000038},
{"s":728,"x":925,"y":0.0003},{"s":728,"x":959,"y":0.000443},{"s":728,"x":975,"y":0.00027},{"s":728,"x":1000,"y":0.0004},{"s":728,"x":1028,"y":0.0003},{"s":728,"x":1047,"y":0.000467},{"s":728,"x":1070,"y":0.000385},{"s":728,"x":1100,"y":0.0004},{"s":728,"x":1132,"y":0.00037},{"s":728,"x":1157,"y":0.000344},{"s":728,"x":1182,"y":0.000295},{"s":728,"x":1216,"y":0.00022},{"s":728,"x":1244,"y":0.00033},{"s":728,"x":1281,"y":0.00035},{"s":728,"x":1310,"y":0.00031},{"s":728,"x":1343,"y":0.00033},{"s":728,"x":1380,"y":0.00029},{"s":728,"x":1417,"y":0.000255},{"s":728,"x":1442,"y":0.00027},{"s":728,"x":1479,"y":0.00025},{"s":728,"x":1516,"y":0.000147},{"s":728,"x":1526,"y":0.000208},
{"s":728,"x":1600,"y":0.000196},{"s":728,"x":1650,"y":0.00018},{"s":728,"x":1700,"y":0.000175},{"s":728,"x":1784,"y":0.000154},{"s":728,"x":1880,"y":0.000145},{"s":728,"x":1982,"y":0.000133},{"s":728,"x":2052,"y":0.000117},{"s":728,"x":2180,"y":0.00011},{"s":728,"x":2299,"y":0.000099},{"s":728,"x":2379,"y":0.000084},{"s":728,"x":2480,"y":0.000087},{"s":728,"x":2577,"y":0.000076},{"s":728,"x":2656,"y":0.000087},{"s":728,"x":2740,"y":0.000077},{"s":728,"x":2795,"y":0.000056},{"s":728,"x":2850,"y":0.00008},{"s":728,"x":2914,"y":0.000079},{"s":728,"x":3171,"y":0.000076},{"s":728,"x":3320,"y":0.000082},{"s":728,"x":3500,"y":0.000078},{"s":728,"x":3700,"y":0.000078},
{"s":728,"x":3770,"y":0.00009},{"s":728,"x":3798,"y":0.000056},{"s":728,"x":3835,"y":0.000095},{"s":728,"x":3889,"y":0.000054},{"s":728,"x":3920,"y":0.000108},{"s":728,"x":3968,"y":0.000039},{"s":728,"x":4000,"y":0.000122},{"s":728,"x":4050,"y":0.000128},{"s":728,"x":4101,"y":0.000063},{"s":728,"x":4150,"y":0.000126},{"s":728,"x":4320,"y":0.000124},{"s":728,"x":4340,"y":0.000061},{"s":728,"x":4360,"y":0.000123},{"s":728,"x":4600,"y":0.000122},{"s":728,"x":4840,"y":0.000116},{"s":728,"x":4861,"y":0.000057},{"s":728,"x":4880,"y":0.000115},{"s":728,"x":5160,"y":0.000113},{"s":728,"x":5175,"y":0.000076},{"s":728,"x":5190,"y":0.000113},{"s":728,"x":5870,"y":0.000105},{"s":728,"x":5890,"y":0.000066},{"s":728,"x":5910,"y":0.000105},{"s":728,"x":6000,"y":0.000104},{"s":728,"x":6540,"y":0.000096},{"s":728,"x":6563,"y":0.000047},{"s":728,"x":6585,"y":0.000095},{"s":728,"x":7000,"y":0.000092},{"s":728,"x":7250,"y":0.00009},{"s":728,"x":8000,"y":0.000076},{"s":728,"x":8480,"y":0.000072},{"s":728,"x":8500,"y":0.000039},{"s":728,"x":8520,"y":0.000071},{"s":728,"x":8545,"y":0.000032},{"s":728,"x":8565,"y":0.000071},{"s":728,"x":8640,"y":0.000069},{"s":728,"x":8662,"y":0.000033},{"s":728,"x":8685,"y":0.000069},{"s":728,"x":9000,"y":0.000066},{"s":728,"x":9300,"y":0.000064},{"s":728,"x":10000,"y":0.000057}
]},
"mark":{"type":"line","strokeWidth":5,"strokeJoin":"round","strokeCap":"round","clip":true},
"encoding":{
"x":{"field":"x","type":"quantitative","scale":{"domain":[-404,10485],"nice":false,"zero":false},"axis":{"values":[0,2000,4000,6000,8000,10000],"format":"d","title":"λ(Å)","titleFontStyle":"italic","titlePadding":11}},
"y":{"field":"y","type":"quantitative","scale":{"domain":[-0.0000297,0.0006234],"nice":false,"zero":false},"axis":{"values":[0,0.0001,0.0002,0.0003,0.0004,0.0005,0.0006],"format":".4f","title":null}},
"color":{"field":"s","type":"nominal",
"scale":{"domain":[67,115,249,308,340,440,573,664,694,713,79,185,250,328,367,449,627,669,697,728,106,246,306,332,369,559,644,684],
"range":["#000080","#0000fc","#005bff","#00c8ff","#41ffb6","#99ff5e","#f1fc06","#ff9700","#ff3200","#d20000","#0000a9","#0012ff","#0080ff","#06edf1","#5eff99","#b6ff41","#ffdb00","#ff7500","#fc1000","#a90000","#0000d2","#0037ff","#00a4ff","#23ffd3","#7bff7b","#d3ff23","#ffb900","#ff5400"]},
"legend":{"title":null,"orient":"none","legendX":1036,"legendY":13,"columns":10,"direction":"horizontal","symbolType":"M-1.6,0L4.4,0","symbolSize":361,"symbolStrokeWidth":4.7,"labelFont":"DejaVu Sans","labelFontSize":31,"labelColor":"#000","labelOffset":46,"labelLimit":200,"columnPadding":32,"rowPadding":8,"padding":8,"fillColor":"rgba(255,255,255,0.8)","strokeColor":"#cccccc","cornerRadius":7,"encode":{"legend":{"update":{"strokeWidth":{"value":2.5}}}}}}
}
}
